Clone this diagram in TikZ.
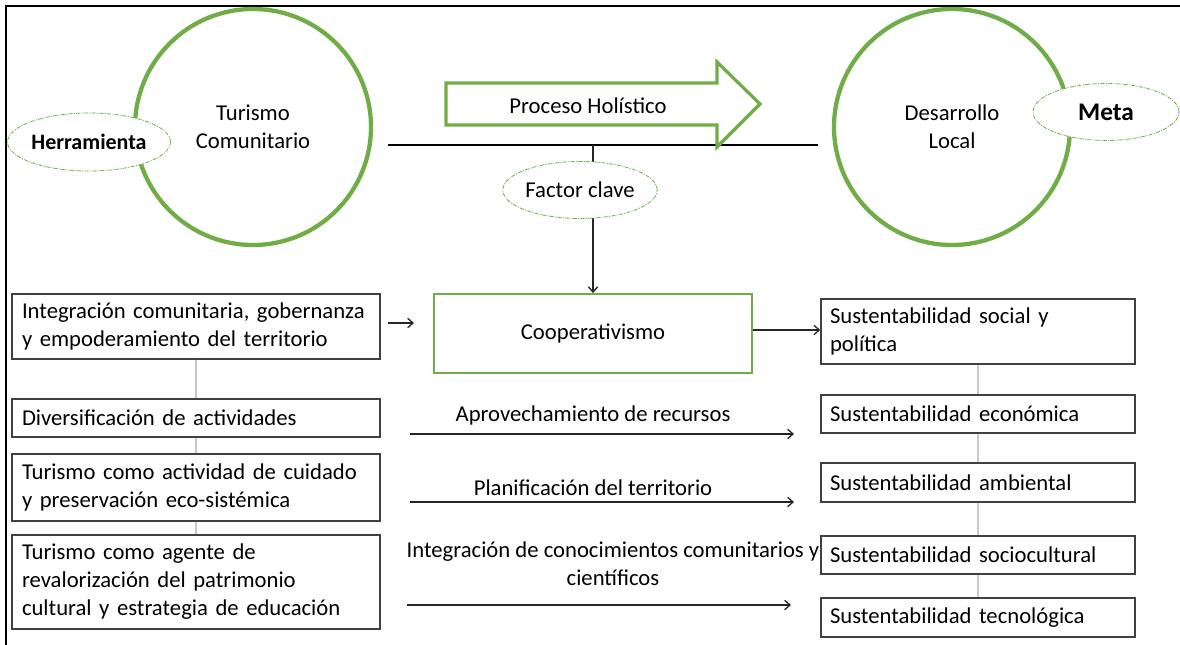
\documentclass[tikz,border=0pt]{standalone}
\usepackage{fontspec}
\setmainfont{Carlito}
\usetikzlibrary{shapes.geometric,arrows.meta}
\definecolor{gr}{HTML}{70AD47}
\definecolor{conn}{HTML}{C4CCC4}
\begin{document}
\begin{tikzpicture}[x=0.75pt,y=-0.75pt,
  every node/.style={font=\fontsize{17}{21}\selectfont},
  bigcirc/.style={circle,draw=gr,line width=3.2pt,fill=white,minimum size=236*0.75pt,align=center,inner sep=0pt},
  tag/.style={ellipse,draw=gr,fill=white,line width=0.6pt,dash pattern=on 3pt off 1pt on 0.8pt off 1pt,inner sep=0pt},
  lbox/.style={rectangle,draw=black!75,line width=1.1pt,fill=white,minimum width=368*0.75pt,text width=348*0.75pt,align=left,inner xsep=10*0.75pt,inner ysep=0pt},
  rbox/.style={rectangle,draw=black!75,line width=1.1pt,fill=white,minimum width=314*0.75pt,text width=296*0.75pt,align=left,inner xsep=9*0.75pt,inner ysep=0pt},
  gline/.style={draw=conn,line width=1pt},
  arr/.style={draw=black!85,line width=1pt,-{Straight Barb[length=4pt,width=7pt]}},
  lab/.style={align=center,inner sep=0pt}]
\useasboundingbox (0,0) rectangle (1180,645);
\fill[white] (0,0) rectangle (1180,645);
% frame
\draw[line width=1.6pt] (6,645) -- (6,6) -- (1180,6);
% horizontal line
\coordinate (hl) at (388,145);
\coordinate (hr) at (818,145);
\coordinate (hub) at (593,145);
\draw[line width=1pt] (hl) -- (hr);
% circles
\node[bigcirc] (tc) at (253,127) {Turismo\\[0pt]Comunitario};
\node[bigcirc] (dl) at (952,127) {Desarrollo\\[0pt]Local};
\node[tag,minimum width=152*0.75pt,minimum height=58*0.75pt,font=\fontsize{16.5}{21}\selectfont\bfseries] (herr) at (89,142) {Herramienta};
\node[tag,minimum width=146*0.75pt,minimum height=57*0.75pt,font=\fontsize{19}{21}\selectfont\bfseries] (meta) at (1106,112) {Meta};
% big arrow
\draw[draw=gr,line width=2.4pt,fill=white,line join=miter] (446,83) -- (717,83) -- (717,62) -- (760,104) -- (717,147) -- (717,125) -- (446,125) -- cycle;
\node[lab] (proc) at (588,106) {Proceso Holístico};
% cooperativismo
\node[rectangle,draw=gr,line width=1.4pt,minimum width=318*0.75pt,minimum height=79*0.75pt] (coop) at (593,333.5) {Cooperativismo};
\draw[arr] (hub) -- (hub |- coop.north);
\node[tag,minimum width=152*0.75pt,minimum height=57*0.75pt] (fac) at (580,190) {Factor clave};
% left boxes
\node[lbox,minimum height=65*0.75pt] (L1) at (196,326.5) {Integración comunitaria, gobernanza\\y empoderamiento del territorio};
\node[lbox,minimum height=38*0.75pt] (L2) at (196,418) {Diversificación de actividades};
\node[lbox,minimum height=67*0.75pt] (L3) at (196,487.5) {Turismo como actividad de cuidado\\y preservación eco-sistémica};
\node[lbox,minimum height=94*0.75pt] (L4) at (196,582) {Turismo como agente de\\revalorización del patrimonio\\cultural y estrategia de educación};
\draw[gline] (L1) -- (L2);
\draw[gline] (L2) -- (L3);
\draw[gline] (L3) -- (L4);
% right boxes
\node[rbox,minimum height=65*0.75pt] (R1) at (978,331.5) {Sustentabilidad social y\\política};
\node[rbox,minimum height=38*0.75pt] (R2) at (978,414) {Sustentabilidad económica};
\node[rbox,minimum height=39*0.75pt] (R3) at (978,482.5) {Sustentabilidad ambiental};
\node[rbox,minimum height=38*0.75pt] (R4) at (978,555) {Sustentabilidad sociocultural};
\node[rbox,minimum height=39*0.75pt] (R5) at (978,617.5) {Sustentabilidad tecnológica};
\draw[gline] (R1) -- (R2);
\draw[gline] (R2) -- (R3);
\draw[gline] (R3) -- (R4);
\draw[gline] (R4) -- (R5);
% arrows
\coordinate (s0) at (388,323);
\coordinate (e0) at (414,323);
\draw[arr] (s0) -- (e0);
\draw[arr] (coop.east |- 0,330) -- (R1.west |- 0,330);
\coordinate (s1) at (410,434);
\coordinate (e1) at (794,434);
\coordinate (s2) at (410,502);
\coordinate (e2) at (794,502);
\coordinate (s3) at (407,605);
\coordinate (e3) at (791,605);
\draw[arr] (s1) -- (e1);
\draw[arr] (s2) -- (e2);
\draw[arr] (s3) -- (e3);
\node[lab] (a1) at (593,415) {Aprovechamiento de recursos};
\node[lab] (a2) at (593,488) {Planificación del territorio};
\node[lab] (a3) at (613,564) {Integración de conocimientos comunitarios y\\científicos};
\end{tikzpicture}
\end{document}
